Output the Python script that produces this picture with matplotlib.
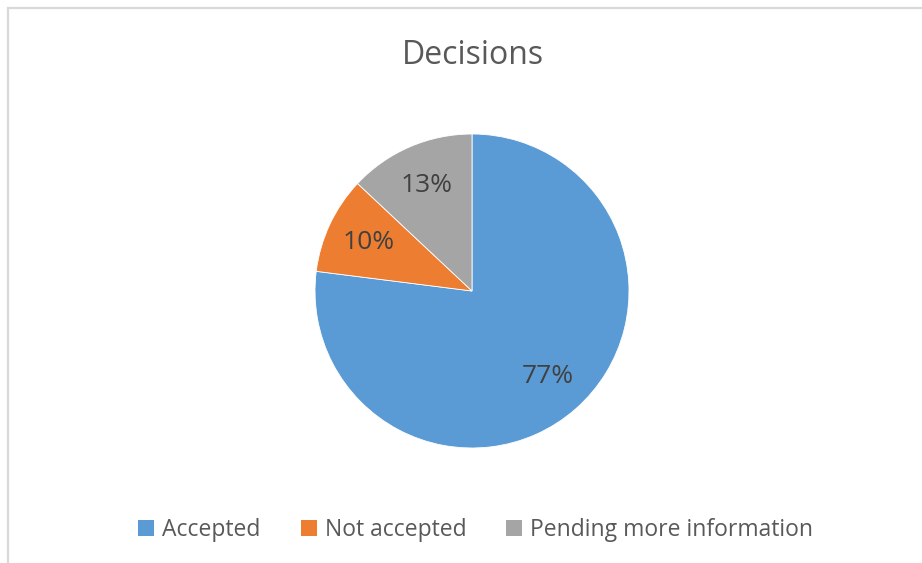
import matplotlib.pyplot as plt
from matplotlib.patches import Patch, Rectangle

categories = ['Accepted', 'Not accepted', 'Pending more information']
shares = [77, 10, 13]
colors = ['#5B9BD5', '#ED7D31', '#A5A5A5']

plt.rcParams['font.family'] = ['Open Sans', 'DejaVu Sans']

W, H = 922, 563
fig = plt.figure(figsize=(W / 100, H / 100), dpi=100)

# chart frame (cropped on right and bottom)
fig.patches.append(Rectangle((8 / W, -0.1), 1.2, 1 - 8 / H + 0.1, transform=fig.transFigure,
                             fill=False, edgecolor='#D9D9D9', linewidth=1.6))

cx, cy, r = 472, 291, 157
ax = fig.add_axes([(cx - r) / W, (H - cy - r) / H, 2 * r / W, 2 * r / H])
wedges, texts, autotexts = ax.pie(
    shares, colors=colors, startangle=90, counterclock=False,
    autopct='%d%%', pctdistance=0.73, radius=1,
    wedgeprops=dict(edgecolor='white', linewidth=0.6),
    textprops=dict(color='#404040', fontsize=19))
ax.set_xlim(-1, 1)
ax.set_ylim(-1, 1)
ax.set_aspect('equal')

fig.text(0.513, 1 - 55 / H, 'Decisions', ha='center', va='center', fontsize=23, color='#595959')

handles = [Patch(facecolor=c, edgecolor='none') for c in colors]
fig.legend(handles, categories, loc='center', bbox_to_anchor=(0.516, 1 - 530 / H), ncol=3,
           frameon=False, fontsize=16.5, labelcolor='#595959', handlelength=0.7, handleheight=0.7,
           handletextpad=0.35, columnspacing=1.75)

fig.savefig('out.png', dpi=100)
